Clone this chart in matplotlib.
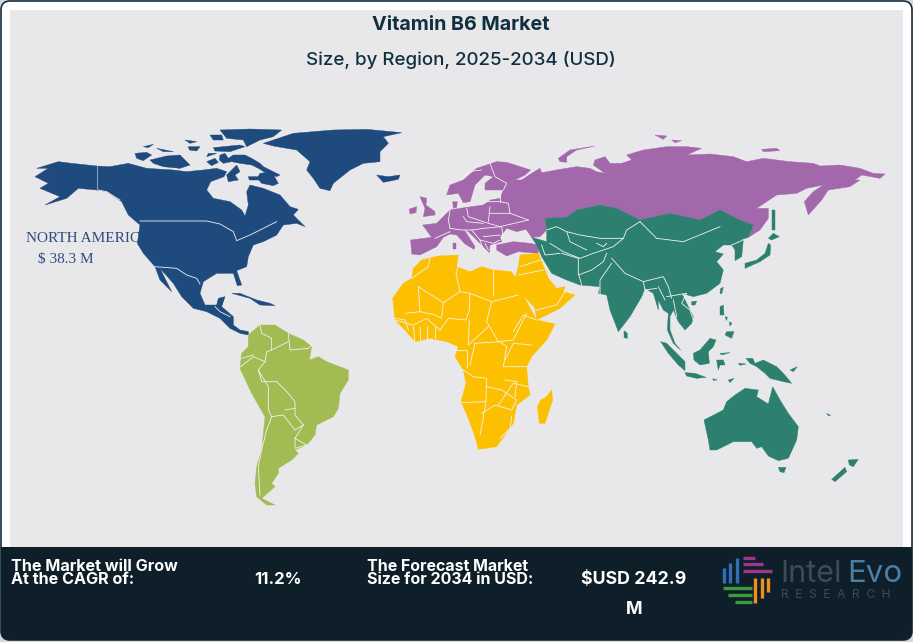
#!/usr/bin/env python3
"""Vitamin B6 market map, regions traced by hand from the picture."""
import matplotlib
matplotlib.use("Agg")
import matplotlib.pyplot as plt
from matplotlib.patches import FancyBboxPatch, Polygon, Rectangle

NA_COLOR = "#1f4a7d"
EU_COLOR = "#a367ab"
AS_COLOR = "#2d8070"
AF_COLOR = "#fdc000"
SA_COLOR = "#a2bb52"
PANEL = "#e8e8ea"
DARK = "#0e1f29"
TITLE_COLOR = "#10303f"
LABEL_COLOR = "#2f4b7c"

TITLE = "Vitamin B6 Market"
SUBTITLE = "Size, by Region, 2025-2034 (USD)"
REGION_LABEL = "NORTH AMERICA"
REGION_VALUE = "$ 38.3 M"
CAGR_TEXT = "The Market will Grow\nAt the CAGR of:"
CAGR_VALUE = "11.2%"
FORECAST_TEXT = "The Forecast Market\nSize for 2034 in USD:"
FORECAST_VALUE = "$USD 242.9"
FORECAST_UNIT = "M"

# outlines are traced in the coordinates of the zoomed crops, see CROP_*
CROP_NA = (0, 120)
CROP_ARCTIC = (180, 125)
CROP_EU = (400, 130)
CROP_EUROPE = (400, 160)
CROP_AF = (380, 250)
CROP_SA = (220, 310)

north_america = [
    [(105,170),(145,145),(110,145),(175,125),(215,130),(290,138),(330,140),(385,130),(440,145),(520,150),(560,155),
     (610,150),(650,145),(680,155),(672,170),(632,185),(620,210),(640,235),(690,245),(725,270),(735,288),(745,255),
     (740,215),(750,195),(790,205),(840,225),(870,260),(895,268),(880,285),(915,320),(890,310),(850,315),(830,345),
     (790,365),(760,375),(745,410),(740,440),(710,452),(725,495),(712,497),(700,460),(650,460),(610,485),(600,520),
     (615,555),(650,555),(655,535),(675,530),(665,560),(700,590),(700,615),(720,630),(745,635),(745,645),(720,640),
     (690,625),(660,595),(620,575),(580,565),(545,530),(520,490),(480,445),(515,515),(480,480),(465,440),(430,400),
     (412,370),(420,315),(385,285),(365,245),(320,215),(290,210),(235,205),(200,235),(135,255),(180,230),(120,205),(145,190)],
    [(790,70),(880,40),(1000,30),(1100,28),(1205,38),(1150,50),(1165,70),(1140,95),(1140,125),(1090,130),(1050,150),
     (1000,190),(990,212),(960,205),(940,175),(920,150),(930,125),(890,90),(820,78)],
    [(1130,165),(1165,170),(1200,165),(1195,178),(1150,187)],
    [(695,520),(720,520),(770,540),(810,550),(825,557),(780,555),(750,535)],
    [(405,100),(440,97),(455,105),(430,122),(410,115)],
    [(450,120),(500,108),(540,105),(570,135),(540,145),(490,140),(460,130)],
    [(470,85),(520,95),(490,95)],
    [(430,80),(460,73),(445,83)],
]
arctic_islands = [
    [(120,90),(135,85),(145,100),(160,90),(195,90),(215,100),(240,115),(250,125),(300,150),(290,155),(260,145),
     (235,130),(215,120),(180,115),(155,110),(130,115),(118,105)],
    [(240,145),(275,140),(295,175),(280,182),(245,175),(232,160)],
    [(205,155),(235,155),(240,165),(208,165)],
    [(140,150),(170,120),(180,140),(165,150),(175,165),(145,170)],
    [(85,85),(110,85),(80,95)],
    [(100,68),(180,60),(195,65),(150,80),(105,78)],
    [(90,30),(125,30),(130,45),(100,45)],
    [(120,15),(210,12),(305,15),(280,35),(240,45),(200,65),(190,45),(140,40)],
    [(25,65),(60,65),(50,78),(28,75)],
    [(15,45),(50,50),(30,55)],
    [(80,110),(105,100),(115,112),(95,122)],
]
north_america_borders = [
    [(420,303),(620,303),(660,312),(700,335),(710,362),(750,345),(790,325),(830,305)],
    [(465,440),(530,445),(560,465),(590,475),(600,492)],
    [(645,560),(660,575),(690,590)],
    [(360,240),(320,215),(295,210)],
]
alaska_border = [(291,138),(291,210)]

eurasia = [
    [(35,372),(32,330),(95,322),(68,285),(110,280),(125,265),(150,240),(200,232),(250,225),(272,210),(300,205),
     (310,180),(345,150),(365,150),(395,130),(420,115),(425,128),(480,118),(530,110),(570,115),(590,125),(615,130),
     (580,105),(585,90),(615,80),(630,100),(665,100),(695,90),(680,75),(730,60),(800,50),(860,50),(905,55),(860,75),
     (930,72),(1000,80),(1040,95),(1090,85),(1170,95),(1240,100),(1260,108),(1320,105),(1380,115),(1420,130),
     (1455,132),(1440,145),(1385,135),(1365,150),(1380,150),(1350,170),(1285,180),(1270,165),(1220,175),(1190,190),
     (1130,195),(1085,225),(1070,235),(1105,235),(1105,265),(1080,300),(1045,322),(1060,285),(1020,270),(960,240),
     (900,270),(810,250),(720,270),(650,235),(600,225),(530,240),(500,262),(435,265),(440,300),(420,320),(395,322),
     (378,298),(350,305),(320,295),(300,320),(305,335),(270,345),(268,368),(245,345),(205,305),(190,295),(225,350),
     (222,358),(195,342),(170,315),(150,312),(130,322),(110,350),(60,375)],
    [(140,195),(150,165),(190,150),(230,115),(290,95),(320,97),(392,120),(375,135),(345,150),(310,180),(255,180),
     (255,160),(280,140),(255,135),(225,165),(210,215),(190,218),(175,190)],
    [(1270,165),(1285,180),(1265,210),(1225,255),(1213,215),(1240,185)],
    [(290,345),(340,335),(390,340),(415,345),(415,370),(355,365),(320,378),(290,360)],
    [(60,200),(80,205),(78,225),(105,245),(105,255),(70,260),(75,235)],
    [(28,237),(50,230),(48,248),(30,252)],
    [(160,340),(168,340),(168,358),(160,358)],
    [(158,215),(172,215),(170,232),(160,235)],
    [(475,85),(510,60),(585,48),(530,60),(500,80),(500,97),(480,95)],
    [(765,15),(800,18),(790,28)],
    [(815,30),(845,32),(825,38)],
    [(1085,58),(1130,55),(1140,62),(1090,65)],
]
# borders of Europe, in the CROP_EUROPE crop
europe_borders = [
    [(150,150),(145,180),(150,205)],
    [(200,145),(205,170),(265,190)],
    [(270,140),(265,185)],
    [(270,160),(330,160),(325,130),(300,125),(255,125)],
    [(265,190),(300,200),(385,180)],
    [(250,205),(305,200),(310,235)],
    [(150,205),(185,210),(215,210),(250,205)],
    [(190,170),(200,185),(250,190)],
    [(215,210),(240,240),(250,270)],
    [(250,230),(300,225)],
    [(240,240),(280,250),(300,240)],
    [(255,250),(265,270)],
    [(185,60),(205,35),(245,30)],
    [(270,10),(285,50),(320,70),(310,90)],
    [(300,100),(300,125)],
    [(105,235),(150,215)],
    [(330,160),(385,180)],
]

asia = [
    [(435,265),(500,262),(530,240),(600,225),(650,235),(720,270),(810,250),(900,270),(960,240),(1020,270),(1060,285),
     (1045,322),(1020,330),(1030,330),(1025,380),(1005,392),(1005,360),(995,345),(970,345),(945,365),(970,372),
     (950,395),(970,420),(960,460),(920,490),(880,500),(845,490),(855,510),(880,560),(875,580),(855,600),(835,575),
     (820,540),(810,560),(810,600),(825,640),(842,660),(820,640),(802,600),(805,550),(790,540),(775,510),(775,540),
     (760,490),(735,475),(725,500),(690,560),(655,605),(630,540),(620,495),(595,490),(600,470),(540,465),(500,450),
     (455,430),(425,380),(410,345),(395,322),(440,335),(440,300)],
    [(1035,400),(1070,390),(1095,370),(1105,340),(1112,345),(1110,375),(1080,395),(1035,415)],
    [(1105,325),(1120,310),(1138,320),(1115,330)],
    [(1115,240),(1125,240),(1125,300),(1115,300)],
]
asia_borders = [
    [(440,300),(470,290),(500,305),(540,315),(600,325),(670,325),(680,300),(720,275)],
    [(450,340),(490,365),(540,385),(580,370),(640,350),(670,325)],
    [(485,370),(535,385),(535,430),(545,465)],
    [(620,370),(610,395),(575,420),(535,435)],
    [(635,400),(600,450),(600,490)],
    [(635,385),(675,430),(730,455),(790,440),(805,470),(815,505)],
    [(720,275),(770,325),(850,335),(960,290)],
    [(800,500),(860,490),(845,520),(870,540),(880,570)],
    [(1030,330),(995,345)],
    [(775,470),(795,510)],
    [(500,305),(510,335),(560,360)],
    [(590,340),(610,350),(620,340)],
    [(730,455),(735,480),(770,475)],
    [(425,345),(435,375),(480,370)],
    [(820,510),(830,560)],
]
oceania = [
    [(732,242),(742,250),(742,265),(732,263)],
    [(842,275),(860,280),(915,335),(915,362),(895,345),(865,310)],
    [(915,368),(945,370),(978,382),(950,385),(920,378)],
    [(940,310),(960,300),(990,265),(1008,270),(1000,290),(985,305),(988,340),(960,345),(942,330)],
    [(1010,330),(1030,330),(1035,345),(1020,345),(1015,360),(1012,345)],
    [(1098,325),(1118,325),(1125,340),(1150,330),(1190,350),(1210,370),(1235,400),(1210,395),(1170,385),(1155,370),(1130,350),(1110,340)],
    [(1020,170),(1030,165),(1032,195),(1020,195)],
    [(1040,245),(1062,245),(1055,265),(1035,255)],
    [(1035,200),(1042,202),(1040,212)],
    [(1048,215),(1056,220),(1050,228)],
    [(1022,115),(1030,112),(1025,132),(1020,130)],
    [(935,155),(950,153),(945,165),(935,165)],
    [(972,510),(1030,480),(1040,455),(1065,435),(1095,415),(1135,420),(1130,440),(1165,462),(1178,410),(1200,450),
     (1225,490),(1255,530),(1250,570),(1225,625),(1195,632),(1165,618),(1145,590),(1130,595),(1115,575),(1060,575),
     (1010,600),(990,600),(985,570)],
    [(1195,652),(1218,652),(1212,668),(1200,665)],
    [(1405,630),(1435,628),(1420,650),(1408,645)],
    [(1395,652),(1400,665),(1365,695),(1355,688)],
    [(1045,390),(1062,385),(1050,398)],
    [(1230,360),(1252,350),(1240,365)],
    [(1020,310),(1050,308),(1025,315)],
    [(1075,340),(1098,342),(1080,346)],
    [(998,386),(1012,390),(1000,391)],
    [(1340,490),(1352,496),(1345,497)],
]

africa = [
    [(125,30),(175,18),(235,15),(230,50),(270,65),(305,50),(340,60),(395,65),(410,90),(440,155),(470,210),(525,222),
     (500,270),(455,320),(440,350),(445,410),(450,435),(410,465),(400,520),(350,590),(295,598),(285,560),(265,505),
     (243,455),(258,400),(250,360),(225,320),(235,290),(200,275),(150,265),(105,275),(75,240),(45,210),(38,145),
     (70,100),(95,85),(100,55)],
    [(420,15),(475,10),(495,60),(505,85),(530,115),(555,110),(550,125),(585,135),(540,175),(470,210),(465,175),(430,135),(405,85),(415,50)],
    [(515,420),(518,450),(495,520),(478,520),(472,470),(482,450),(500,440)],
]
africa_borders = [
    [(95,85),(145,50),(150,25)],
    [(115,110),(190,158),(240,125),(270,130),(335,155),(415,135)],
    [(115,110),(120,185),(75,190)],
    [(240,125),(228,70),(235,50)],
    [(270,130),(268,180),(258,210),(205,205),(180,240)],
    [(120,185),(165,195),(185,205)],
    [(190,158),(185,200)],
    [(338,60),(338,135)],
    [(335,155),(320,215),(355,275),(400,270),(440,190)],
    [(268,210),(265,285),(325,230)],
    [(285,280),(360,275),(380,290),(370,350),(440,350)],
    [(375,330),(400,280),(455,285)],
    [(400,245),(430,195),(470,210)],
    [(250,360),(280,380),(320,385),(318,455),(245,458)],
    [(318,455),(305,530),(300,555)],
    [(305,490),(345,465),(395,480),(410,450),(365,420),(320,410)],
    [(355,465),(400,400),(445,410)],
    [(360,565),(390,535),(395,500)],
    [(285,280),(270,345)],
    [(100,230),(105,275)],
    [(140,228),(140,270)],
    [(165,228),(165,265)],
    [(45,210),(100,225),(140,205),(180,240)],
    [(420,50),(480,30)],
    [(415,75),(490,60)],
    [(470,180),(530,165),(555,125)],
    [(225,300),(262,300),(262,350)],
    [(45,205),(75,210),(85,240)],
    [(120,230),(122,270)],
    [(375,390),(410,395),(405,440)],
]

south_america = [
    [(85,75),(120,45),(165,45),(205,70),(250,90),(275,110),(268,150),(295,140),(320,155),(385,180),(385,210),(360,250),
     (355,295),(340,320),(290,345),(285,375),(260,405),(225,420),(235,430),(215,450),(175,475),(175,490),(155,520),
     (165,530),(125,565),(165,585),(140,585),(110,560),(105,520),(110,470),(125,420),(135,320),(95,250),(60,175),(65,130),(85,110)],
]
south_america_borders = [
    [(120,45),(125,70),(155,85),(155,120),(140,125),(135,155),(115,180),(125,215),(170,215),(205,250),(225,275),
     (225,315),(250,345),(225,385),(260,405)],
    [(62,170),(100,140),(135,155)],
    [(65,145),(100,135)],
    [(145,230),(145,300),(155,320),(190,315),(225,360),(250,345)],
    [(195,300),(225,295)],
    [(155,320),(140,360),(125,420),(115,470),(120,555)],
    [(205,70),(210,120),(265,115),(275,105)],
    [(155,120),(205,95)],
    [(225,385),(225,415),(260,405)],
    [(115,180),(145,230)],
]

# logo bars, crop of the lower right corner
CROP_LOGO = (700, 545)
logo_blue = [[(72,70),(72,115)], [(90,55),(90,115)], [(110,38),(110,115)]]
logo_purple = [[(130,40),(165,40)], [(130,58),(190,58)], [(130,78),(215,78)]]
logo_orange = [[(165,100),(165,175)], [(185,100),(185,160)], [(205,100),(205,140)]]
logo_green = [[(70,130),(155,130)], [(85,150),(155,150)], [(105,172),(155,172)]]


def to_px(points, crop):
    return [(crop[0] + x / 3, crop[1] + y / 3) for x, y in points]


def draw_region(ax, shapes, crop, color, borders=(), zorder=3):
    for shape in shapes:
        ax.add_patch(Polygon(to_px(shape, crop), closed=True, facecolor=color, edgecolor=color, lw=0.3, zorder=zorder))
    for line in borders:
        xy = to_px(line, crop)
        ax.plot([p[0] for p in xy], [p[1] for p in xy], color="#f2f2f2", lw=0.6, zorder=zorder + 0.5)


def draw_logo(ax):
    for lines, color in [(logo_blue, "#2f6fb5"), (logo_purple, "#a0348f"), (logo_orange, "#ef8f22"), (logo_green, "#3f9b3f")]:
        for line in lines:
            xy = to_px(line, CROP_LOGO)
            ax.plot([p[0] for p in xy], [p[1] for p in xy], color=color, lw=2.4, solid_capstyle="butt", zorder=6)
    ax.text(780, 582, "Intel", color="#3a4b5c", fontsize=22, family="Inter", va="baseline", ha="left", zorder=6)
    ax.text(847, 582, "Evo", color="#4a7fa8", fontsize=22.5, family="Inter", va="baseline", ha="left", zorder=6)
    ax.text(781, 595, "R  E  S  E  A  R  C  H", color="#3a4b5c", fontsize=8.5, family="Inter", va="center", ha="left", zorder=6)


def main():
    fig = plt.figure(figsize=(9.13, 6.42), dpi=100)
    ax = fig.add_axes([0, 0, 1, 1])
    ax.set_xlim(0, 913)
    ax.set_ylim(642, 0)
    ax.axis("off")

    # white card with a thin dark edge, grey map panel inside, dark strip at the bottom
    ax.add_patch(FancyBboxPatch((1, 1), 911, 639, boxstyle="round,pad=0,rounding_size=9", lw=1.2, ec="#15303f", fc="white", zorder=1))
    ax.add_patch(Rectangle((10, 10), 893, 538, lw=0, fc=PANEL, zorder=1.2))
    ax.add_patch(FancyBboxPatch((1, 547), 911, 93, boxstyle="round,pad=0,rounding_size=9", lw=0, fc=DARK, zorder=2))
    ax.add_patch(Rectangle((1, 547), 911, 23, lw=0, fc=DARK, zorder=2))

    ax.text(461, 25, TITLE, color=TITLE_COLOR, fontsize=14.2, fontweight="bold", family="Inter", ha="center", va="center", zorder=5)
    ax.text(461, 60, SUBTITLE, color=TITLE_COLOR, fontsize=13.5, fontweight="medium", family="Inter", ha="center", va="center", zorder=5)

    # label sits under the map, the continent hides its end like in the picture
    ax.text(26, 239, REGION_LABEL, color=LABEL_COLOR, fontsize=11, family="Liberation Serif", ha="left", va="center", zorder=2.5)
    ax.text(38, 259, REGION_VALUE, color=LABEL_COLOR, fontsize=11, family="Liberation Serif", ha="left", va="center", zorder=2.5)

    draw_region(ax, eurasia, CROP_EU, EU_COLOR, [])
    for line in europe_borders:
        ax.plot(*zip(*to_px(line, CROP_EUROPE)), color="#f2f2f2", lw=0.6, zorder=3.5)
    draw_region(ax, asia, CROP_EU, AS_COLOR, asia_borders, zorder=3.6)
    draw_region(ax, oceania, CROP_AF, AS_COLOR, zorder=3.6)
    draw_region(ax, north_america, CROP_NA, NA_COLOR, north_america_borders)
    draw_region(ax, arctic_islands, CROP_ARCTIC, NA_COLOR)
    ax.plot(*zip(*to_px(alaska_border, CROP_NA)), color="#8c9bb0", lw=0.8, zorder=3.5)
    draw_region(ax, africa, CROP_AF, AF_COLOR, africa_borders, zorder=3.6)
    draw_region(ax, south_america, CROP_SA, SA_COLOR, south_america_borders)

    ax.text(11, 573, CAGR_TEXT, color="white", fontsize=11.6, fontweight="bold", family="Inter", ha="left", va="center", linespacing=0.9, zorder=5)
    ax.text(278, 580, CAGR_VALUE, color="white", fontsize=12, fontweight="bold", family="Inter", ha="center", va="center", zorder=5)
    ax.text(367, 573, FORECAST_TEXT, color="white", fontsize=11.5, fontweight="bold", family="Inter", ha="left", va="center", linespacing=0.9, zorder=5)
    ax.text(634, 580, FORECAST_VALUE, color="white", fontsize=12.8, fontweight="bold", family="Inter", ha="center", va="center", zorder=5)
    ax.text(634, 609, FORECAST_UNIT, color="white", fontsize=12.8, fontweight="bold", family="Inter", ha="center", va="center", zorder=5)

    draw_logo(ax)

    fig.savefig("out.png", dpi=100, facecolor="#d5d8db")
    plt.close(fig)


if __name__ == "__main__":
    main()
